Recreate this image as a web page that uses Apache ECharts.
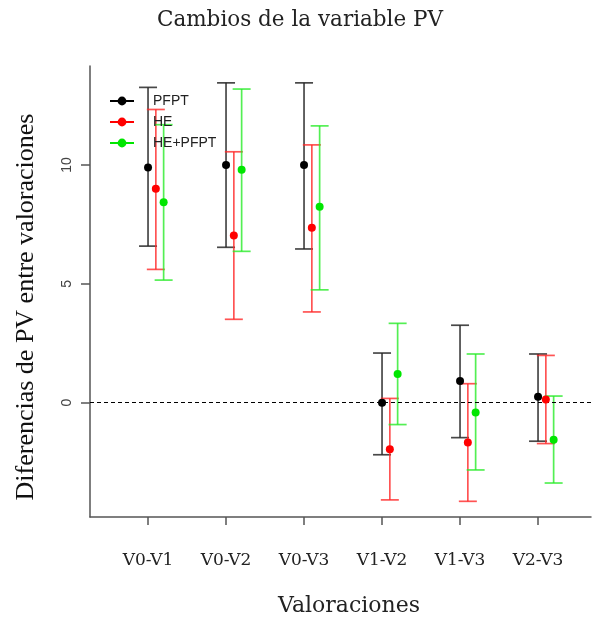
<!DOCTYPE html>
<html>
<head>
<meta charset="utf-8">
<script src="https://cdn.jsdelivr.net/npm/echarts@6/dist/echarts.min.js"></script>
<style>html,body{margin:0;padding:0;background:#fff}#c{width:593px;height:620px}</style>
</head>
<body>
<div id="c"></div>
<script>
const categories = ['V0-V1', 'V0-V2', 'V0-V3', 'V1-V2', 'V1-V3', 'V2-V3'];
const seriesNames = ['PFPT', 'HE', 'HE+PFPT'];
const yTicks = [0, 5, 10];

const pfptMean = [9.90, 10.00, 10.00, 0.00, 0.91, 0.25];
const pfptLow  = [6.59, 6.54, 6.47, -2.19, -1.47, -1.62];
const pfptHigh = [13.27, 13.46, 13.46, 2.09, 3.26, 2.05];

const heMean = [9.00, 7.04, 7.36, -1.96, -1.67, 0.14];
const heLow  = [5.61, 3.51, 3.82, -4.09, -4.15, -1.72];
const heHigh = [12.34, 10.56, 10.85, 0.18, 0.80, 1.99];

const hpMean = [8.44, 9.80, 8.25, 1.21, -0.41, -1.56];
const hpLow  = [5.16, 6.37, 4.75, -0.92, -2.83, -3.38];
const hpHigh = [11.70, 13.20, 11.65, 3.34, 2.05, 0.28];

const groups = [
  {name: seriesNames[0], mean: pfptMean, low: pfptLow, high: pfptHigh, dot: '#000000', bar: 'rgba(40,40,40,0.85)'},
  {name: seriesNames[1], mean: heMean, low: heLow, high: heHigh, dot: '#ff0000', bar: 'rgba(255,40,40,0.8)'},
  {name: seriesNames[2], mean: hpMean, low: hpLow, high: hpHigh, dot: '#00e600', bar: 'rgba(40,235,40,0.8)'}
];
const offsets = [0, 0.1, 0.2];
const capHalf = 9;

const chart = echarts.init(document.getElementById('c'), null, {renderer: 'canvas'});

const series = [];
groups.forEach((g, gi) => {
  series.push({
    name: g.name,
    type: 'line',
    z: 5,
    symbol: 'circle',
    symbolSize: 8,
    itemStyle: {color: g.dot},
    lineStyle: {width: 0, opacity: 0},
    data: g.mean.map((v, i) => [i + 1 + offsets[gi], v]),
    markLine: gi === 0 ? {
      silent: true,
      symbol: 'none',
      label: {show: false},
      lineStyle: {type: [4, 3], color: '#000', width: 1},
      data: [{yAxis: 0}]
    } : undefined
  });
});
groups.forEach((g, gi) => {
  series.push({
    name: g.name,
    type: 'custom',
    z: 2,
    data: g.mean.map((v, i) => [i + 1 + offsets[gi], g.low[i], g.high[i]]),
    renderItem: function (params, api) {
      const x = api.value(0);
      const lo = api.coord([x, api.value(1)]);
      const hi = api.coord([x, api.value(2)]);
      const st = {stroke: g.bar, lineWidth: 1.7};
      return {
        type: 'group',
        children: [
          {type: 'line', shape: {x1: lo[0], y1: lo[1], x2: hi[0], y2: hi[1]}, style: st},
          {type: 'line', shape: {x1: hi[0] - capHalf, y1: hi[1], x2: hi[0] + capHalf, y2: hi[1]}, style: st},
          {type: 'line', shape: {x1: lo[0] - capHalf, y1: lo[1], x2: lo[0] + capHalf, y2: lo[1]}, style: st}
        ]
      };
    }
  });
});

chart.setOption({
  animation: false,
  backgroundColor: '#fff',
  grid: {left: 90, top: 66, width: 501, height: 451, containLabel: false},
  legend: {
    data: seriesNames,
    orient: 'vertical',
    left: 104,
    top: 89,
    itemWidth: 24,
    itemHeight: 11,
    itemGap: 7,
    lineStyle: {width: 2, opacity: 1},
    textStyle: {fontFamily: 'Liberation Sans', fontSize: 14, color: '#222', padding: [0, 0, 0, 14]}
  },
  xAxis: {
    type: 'value',
    min: 0.256,
    max: 6.679,
    splitLine: {show: false},
    axisLine: {show: true, onZero: false, lineStyle: {color: '#555', width: 1.5}},
    axisTick: {show: true, length: 8, customValues: [1, 2, 3, 4, 5, 6], lineStyle: {color: '#555', width: 1.5}},
    axisLabel: {
      customValues: [1, 2, 3, 4, 5, 6],
      formatter: v => categories[Math.round(v) - 1],
      margin: 35,
      fontFamily: 'DejaVu Serif',
      fontSize: 17,
      color: '#222'
    }
  },
  yAxis: {
    type: 'value',
    min: -4.81,
    max: 14.17,
    splitLine: {show: false},
    axisLine: {show: true, onZero: false, lineStyle: {color: '#555', width: 1.5}},
    axisTick: {show: true, length: 9, customValues: yTicks, lineStyle: {color: '#555', width: 1.5}},
    axisLabel: {
      customValues: yTicks,
      rotate: 90,
      margin: 16,
      fontFamily: 'Liberation Sans',
      fontSize: 14,
      color: '#444'
    }
  },
  graphic: [
    {type: 'text', x: 300, y: 20, style: {text: 'Cambios de la variable PV', fontFamily: 'DejaVu Serif', fontSize: 21.5, fill: '#222', align: 'center', verticalAlign: 'middle'}},
    {type: 'text', x: 349, y: 606, style: {text: 'Valoraciones', fontFamily: 'DejaVu Serif', fontSize: 22, fill: '#222', align: 'center', verticalAlign: 'middle'}},
    {type: 'text', x: 26, y: 307, rotation: Math.PI / 2, style: {text: 'Diferencias de PV entre valoraciones', fontFamily: 'Liberation Serif', fontSize: 26, fill: '#111', align: 'center', verticalAlign: 'middle'}}
  ],
  series: series
});
</script>
</body>
</html>
